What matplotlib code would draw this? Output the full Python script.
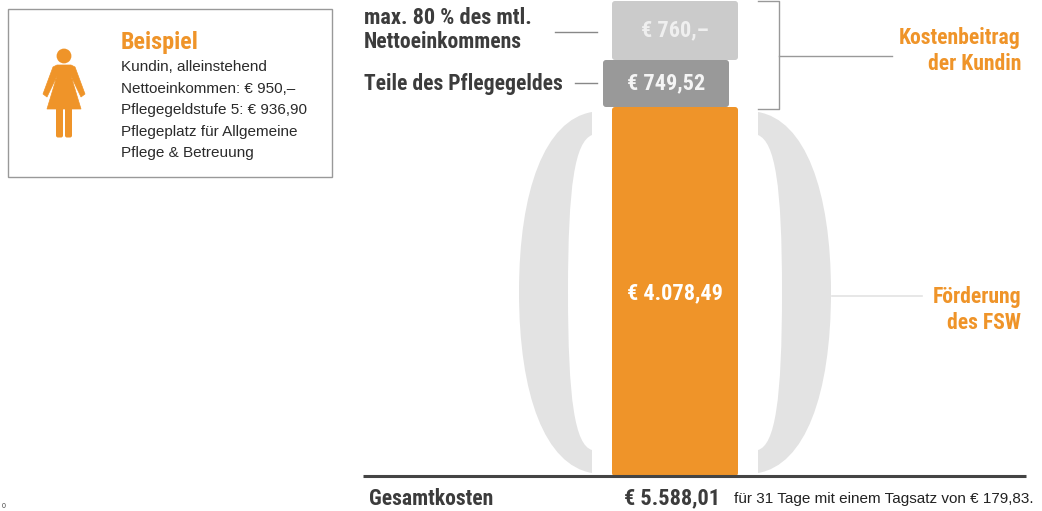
import matplotlib
matplotlib.use('Agg')
import matplotlib.pyplot as plt
from matplotlib.patches import FancyBboxPatch, PathPatch, Rectangle, Circle, Polygon
from matplotlib.path import Path

ORANGE = '#ef9429'
NARROW = ['Roboto Condensed', 'Liberation Sans', 'DejaVu Sans']
SANS = ['Liberation Sans', 'DejaVu Sans']

# stacked bars, top to bottom (heights as drawn in the picture, not to scale)
bar_labels = ['€ 760,–', '€ 749,52', '€ 4.078,49']
bar_heights = [59, 47, 369]
bar_colors = ['#cbcbcb', '#999999', ORANGE]
bar_offsets = [612, 603, 612]
bar_label_colors = ['#efefef', '#f5f5f5', '#ffffff']
bar_width = 126

example_title = 'Beispiel'
example_lines = ['Kundin, alleinstehend',
                 'Nettoeinkommen: € 950,–',
                 'Pflegegeldstufe 5: € 936,90',
                 'Pflegeplatz für Allgemeine',
                 'Pflege & Betreuung']

fig = plt.figure(figsize=(10.42, 5.11), dpi=100)
ax = fig.add_axes([0, 0, 1, 1])
ax.set_xlim(0, 1042)
ax.set_ylim(511, 0)
ax.axis('off')


def bracket(flip):
    # left bracket shape, mirrored around the bar centre for the right one
    pts = [(592, 112), (545, 120), (519, 190), (519, 292),
           (519, 395), (545, 465), (592, 473),
           (592, 450), (575, 445), (568, 400), (568, 292),
           (568, 185), (575, 142), (592, 135), (592, 112)]
    codes = [Path.MOVETO, Path.CURVE4, Path.CURVE4, Path.CURVE4,
             Path.CURVE4, Path.CURVE4, Path.CURVE4,
             Path.LINETO, Path.CURVE4, Path.CURVE4, Path.CURVE4,
             Path.CURVE4, Path.CURVE4, Path.CURVE4, Path.CLOSEPOLY]
    if flip:
        pts = [(1350 - x, y) for x, y in pts]
    return PathPatch(Path(pts, codes), fc='#e3e3e3', ec='none', zorder=1)


def bold(x, y, s, color='#3c3c3c', size=15.6, ha='left'):
    ax.text(x, y, s, color=color, fontsize=size, fontweight='bold', family=NARROW, ha=ha, va='center', zorder=3)


ax.add_patch(bracket(False))
ax.add_patch(bracket(True))

# bars
top = 1
for h, c, x0, lab, lc in zip(bar_heights, bar_colors, bar_offsets, bar_labels, bar_label_colors):
    ax.add_patch(FancyBboxPatch((x0 + 2, top + 2), bar_width - 4, h - 4,
                                boxstyle='round,pad=2,rounding_size=3',
                                fc=c, ec='none', zorder=2))
    bold(x0 + bar_width / 2, top + h / 2 + (2 if h > 100 else 0), lab, color=lc, size=16, ha='center')
    top += h

# connector lines
ax.plot([555, 597], [32, 32], color='#888888', lw=1)
ax.plot([575, 597], [83, 83], color='#888888', lw=1)
ax.plot([758, 779, 779, 758], [1, 1, 109, 109], color='#999999', lw=1)
ax.plot([779, 892], [56, 56], color='#999999', lw=1)
ax.plot([832, 922], [296, 296], color='#e3e3e3', lw=1.2)
ax.plot([363, 1026], [476, 476], color='#444444', lw=2.2, zorder=4, solid_capstyle='butt')

# left labels
bold(364, 18, 'max. 80 % des mtl.', size=16)
bold(364, 42, 'Nettoeinkommens')
bold(364, 84, 'Teile des Pflegegeldes')

# right labels
bold(1021, 38, 'Kostenbeitrag', color=ORANGE, ha='right')
bold(1021, 64, 'der Kundin', color=ORANGE, ha='right')
bold(1021, 297, 'Förderung', color=ORANGE, ha='right')
bold(1021, 323, 'des FSW', color=ORANGE, ha='right')

# bottom row
bold(369, 499, 'Gesamtkosten')
bold(624, 498, '€ 5.588,01', size=16)
ax.text(734, 499, 'für 31 Tage mit einem Tagsatz von € 179,83.', color='#222222', fontsize=11, family=SANS, va='center')
ax.text(2, 507, '0', color='#444444', fontsize=5, family=SANS, va='center')

# example box
ax.add_patch(Rectangle((8, 9), 324, 168, fc='white', ec='#999999', lw=1))
bold(121, 42, example_title, color=ORANGE, size=17.4)
for i, line in enumerate(example_lines):
    ax.text(121, 67 + i * 21.6, line, color='#2a2a2a', fontsize=11, family=SANS, va='center')

# person icon
ax.add_patch(Circle((64, 56), 7.4, fc=ORANGE, ec='none'))
ax.add_patch(Polygon([(57, 65), (71, 65), (75, 67), (85, 94), (81, 97), (71, 76),
                      (81, 109), (47, 109), (57, 76), (47, 97), (43, 94), (53, 67)],
                     closed=True, fc=ORANGE, ec=ORANGE, lw=0.5))
ax.add_patch(FancyBboxPatch((57.5, 109), 4, 27, boxstyle='round,pad=1.5,rounding_size=2', fc=ORANGE, ec='none'))
ax.add_patch(FancyBboxPatch((66.5, 109), 4, 27, boxstyle='round,pad=1.5,rounding_size=2', fc=ORANGE, ec='none'))

fig.savefig('out.png', dpi=100)
